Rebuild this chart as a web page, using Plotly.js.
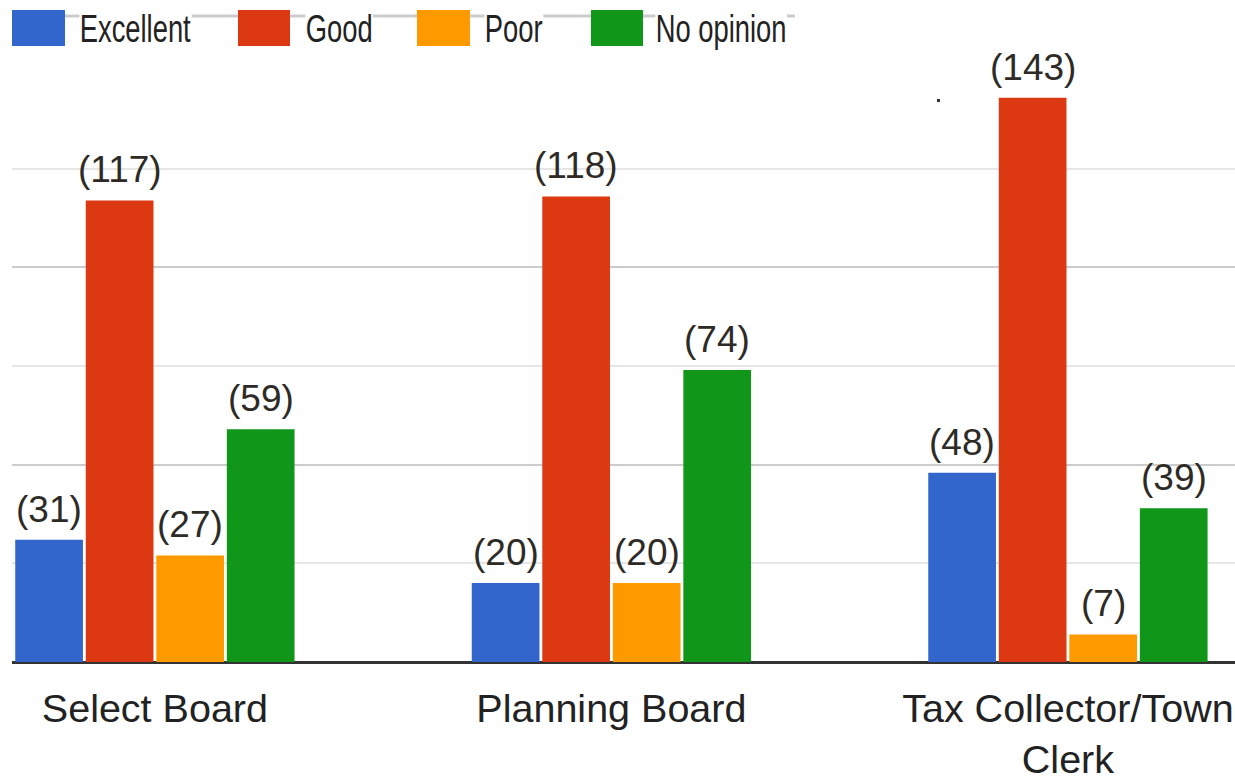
<!DOCTYPE html>
<html>
<head>
<meta charset="utf-8">
<script src="https://cdn.plot.ly/plotly-3.0.1.min.js"></script>
<style>html,body{margin:0;padding:0;background:#fff;}#chart{width:1235px;height:779px;}</style>
</head>
<body>
<div id="chart"></div>
<script>
const categories = ['Select Board', 'Planning Board', 'Tax Collector/Town<br>Clerk'];
const seriesNames = ['Excellent', 'Good', 'Poor', 'No opinion'];
const excellent = [31, 20, 48];
const good = [117, 118, 143];
const poor = [27, 20, 7];
const noOpinion = [59, 74, 39];
const seriesColors = ['#3366cc', '#dc3912', '#ff9900', '#109618'];

const W = 1235, H = 779, ML = 12, MR = 0, MT = 0, MB = 117;
const PW = W - ML - MR, PH = H - MT - MB;
const px2x = p => (p - ML) / PW;
const py2y = p => (H - MB - p) / PH;

const ARIAL = '"Liberation Sans", Arial, sans-serif';
const LEGEND_SQUEEZE = 0.72;

const allValues = [excellent, good, poor, noOpinion];
const traces = allValues.map((vals, i) => ({
  type: 'bar',
  name: seriesNames[i],
  x: categories,
  y: vals,
  marker: {color: seriesColors[i], line: {width: 0}},
  hoverinfo: 'none',
  showlegend: false
}));

// custom legend (large swatches, as in the reference)
const swatchX = [[12, 65], [238, 290], [417, 470], [591, 643]];
const labelX = [79, 305, 484, 655];
const shapes = [
  {type: 'line', xref: 'paper', yref: 'paper', x0: px2x(65), x1: px2x(795), y0: py2y(16), y1: py2y(16),
   line: {color: '#cccccc', width: 3}, layer: 'below'},
  {type: 'rect', xref: 'paper', yref: 'paper', x0: px2x(937), x1: px2x(940), y0: py2y(102), y1: py2y(99),
   fillcolor: '#333', line: {width: 0}}
];
const legendAnnotations = [];
seriesNames.forEach((n, i) => {
  shapes.push({type: 'rect', xref: 'paper', yref: 'paper',
    x0: px2x(swatchX[i][0]), x1: px2x(swatchX[i][1]), y0: py2y(46), y1: py2y(10),
    fillcolor: seriesColors[i], line: {width: 0}, layer: 'above'});
  legendAnnotations.push({xref: 'paper', yref: 'paper', x: px2x(labelX[i]), y: py2y(29),
    xanchor: 'left', yanchor: 'middle', text: n, showarrow: false,
    bgcolor: '#ffffff', borderpad: 0,
    font: {family: ARIAL, size: 38, color: '#222'}});
});

const layout = {
  width: W, height: H,
  margin: {l: ML, r: MR, t: MT, b: MB, pad: 0},
  paper_bgcolor: '#fff', plot_bgcolor: '#fff',
  barmode: 'group', bargap: 0.382, bargroupgap: 0.04,
  showlegend: false,
  xaxis: {
    type: 'category', range: [-0.313, 2.366], fixedrange: true,
    showgrid: false, showline: false, zeroline: false,
    ticks: '', ticklabelstandoff: 19,
    tickfont: {family: ARIAL, size: 39.5, color: '#222'}
  },
  yaxis: {
    range: [0, 167.8], fixedrange: true,
    tickmode: 'array', tickvals: [0, 50, 100], showticklabels: false,
    showgrid: true, gridcolor: '#cccccc', gridwidth: 2,
    zeroline: true, zerolinecolor: '#333333', zerolinewidth: 3,
    minor: {tickmode: 'array', tickvals: [25, 75, 125], showgrid: true, gridcolor: '#e6e6e6', gridwidth: 2}
  },
  shapes: shapes,
  annotations: legendAnnotations
};

const gd = document.getElementById('chart');
Plotly.newPlot(gd, traces, layout, {displayModeBar: false, staticPlot: true}).then(() => {
  // value labels placed at the bar centres that Plotly computed
  const valueAnnotations = [];
  gd.calcdata.forEach((cdTrace, i) => {
    cdTrace.forEach((pt, j) => {
      valueAnnotations.push({xref: 'x', yref: 'y', x: pt.x, y: allValues[i][j],
        xanchor: 'center', yanchor: 'bottom', yshift: 9, borderpad: 0,
        text: '(' + allValues[i][j] + ')', showarrow: false,
        font: {family: ARIAL, size: 37, color: '#2e2b26'}});
    });
  });
  return Plotly.relayout(gd, {annotations: legendAnnotations.concat(valueAnnotations)});
}).then(() => {
  // condensed legend labels like the reference
  for (let i = 0; i < seriesNames.length; i++) {
    const g = gd.querySelector('.annotation[data-index="' + i + '"] .annotation-text-g');
    if (!g) continue;
    const L = labelX[i];
    const prev = g.getAttribute('transform') || '';
    g.setAttribute('transform', prev + ' translate(' + L + ',0) scale(' + LEGEND_SQUEEZE + ',1) translate(' + (-L) + ',0)');
  }
});
</script>
</body>
</html>
